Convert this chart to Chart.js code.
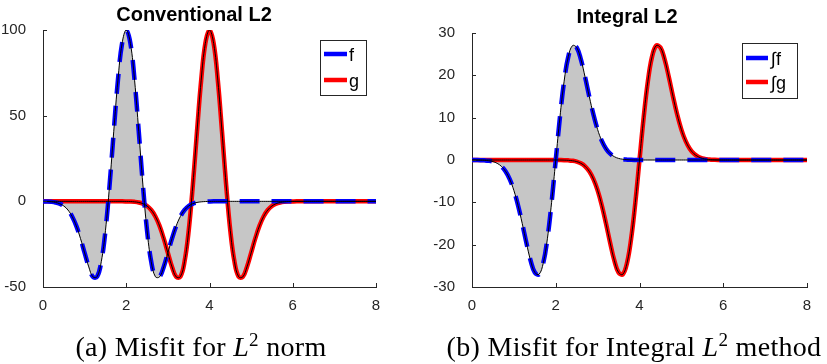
<!DOCTYPE html>
<html>
<head>
<meta charset="utf-8">
<script src="https://cdn.jsdelivr.net/npm/chart.js@4.4.1/dist/chart.umd.min.js"></script>
<style>
body { margin: 0; background: #fff; width: 827px; height: 364px; position: relative; overflow: hidden; }
.pane { position: absolute; top: 0; height: 330px; }
.cap { position: absolute; top: 333px; font-family: 'Liberation Serif', 'Times New Roman', serif; font-size: 28px; line-height: 28px; letter-spacing: 0.3px; text-align: center; color: #000; white-space: nowrap; }
.cap sup { font-size: 0.68em; line-height: 0; vertical-align: 0.5em; }
</style>
</head>
<body>
<div class="pane" style="left:0;width:413px"><canvas id="chartA" width="413" height="330"></canvas></div>
<div class="pane" style="left:413px;width:414px"><canvas id="chartB" width="414" height="330"></canvas></div>
<div class="cap" style="left:0;width:402px">(a) Misfit for <i>L</i><sup>2</sup> norm</div>
<div class="cap" style="left:434px;width:400px">(b) Misfit for Integral <i>L</i><sup>2</sup> method</div>
<script>
// sample positions (time axis)
const xs = [0,0.1,0.2,0.3,0.4,0.5,0.6,0.7,0.8,0.9,1,1.1,1.2,1.3,1.4,1.5,1.6,1.7,1.8,1.9,
            2,2.1,2.2,2.3,2.4,2.5,2.6,2.7,2.8,2.9,3,3.1,3.2,3.3,3.4,3.5,3.6,3.7,3.8,3.9,
            4,4.1,4.2,4.3,4.4,4.5,4.6,4.7,4.8,4.9,5,5.1,5.2,5.3,5.4,5.5,5.6,5.7,5.8,5.9,
            6,6.1,6.2,6.3,6.4,6.5,6.6,6.7,6.8,6.9,7,7.1,7.2,7.3,7.4,7.5,7.6,7.7,7.8,7.9,8];

// left panel: f and g
const fVals = [-0.05,-0.12,-0.29,-0.65,-1.37,-2.72,-5.07,-8.84,-14.35,-21.64,
               -30.11,-38.29,-44.1,-44,-35.24,-17.12,9.56,40.9,70.7,92.18,
               100,92.18,70.7,40.9,9.56,-17.12,-35.24,-44,-44.1,-38.29,
               -30.11,-21.64,-14.35,-8.84,-5.07,-2.72,-1.37,-0.65,-0.29,-0.12,
               -0.05,0,0,0,0,0,0,0,0,0,
               0,0,0,0,0,0,0,0,0,0,
               0,0,0,0,0,0,0,0,0,0,
               0,0,0,0,0,0,0,0,0,0,0];
const gVals = [0,0,0,0,0,0,0,0,0,0,
               0,0,0,0,0,0,0,0,0,0,
               -0.05,-0.12,-0.29,-0.65,-1.37,-2.72,-5.07,-8.84,-14.35,-21.64,
               -30.11,-38.29,-44.1,-44,-35.24,-17.12,9.56,40.9,70.7,92.18,
               100,92.18,70.7,40.9,9.56,-17.12,-35.24,-44,-44.1,-38.29,
               -30.11,-21.64,-14.35,-8.84,-5.07,-2.72,-1.37,-0.65,-0.29,-0.12,
               -0.05,0,0,0,0,0,0,0,0,0,
               0,0,0,0,0,0,0,0,0,0,0];

// right panel: integrals of f and g
const intF = [0,-0.01,-0.03,-0.08,-0.18,-0.38,-0.78,-1.48,-2.67,-4.52,
              -7.19,-10.74,-15.02,-19.61,-23.78,-26.57,-27.02,-24.42,-18.61,-10.08,
              0,10.08,18.61,24.42,27.02,26.57,23.78,19.61,15.02,10.74,
              7.19,4.52,2.67,1.48,0.78,0.38,0.18,0.08,0.03,0.01,
              0,0,0,0,0,0,0,0,0,0,
              0,0,0,0,0,0,0,0,0,0,
              0,0,0,0,0,0,0,0,0,0,
              0,0,0,0,0,0,0,0,0,0,0];
const intG = [0,0,0,0,0,0,0,0,0,0,
              0,0,0,0,0,0,0,0,0,0,
              0,-0.01,-0.03,-0.08,-0.18,-0.38,-0.78,-1.48,-2.67,-4.52,
              -7.19,-10.74,-15.02,-19.61,-23.78,-26.57,-27.02,-24.42,-18.61,-10.08,
              0,10.08,18.61,24.42,27.02,26.57,23.78,19.61,15.02,10.74,
              7.19,4.52,2.67,1.48,0.78,0.38,0.18,0.08,0.03,0.01,
              0,0,0,0,0,0,0,0,0,0,
              0,0,0,0,0,0,0,0,0,0,0];

const xTicks = [0, 2, 4, 6, 8];
const leftTicks = [-50, 0, 50, 100];
const rightTicks = [-30, -20, -10, 0, 10, 20, 30];

const AXIS = '#262626';
const FONT = "'Liberation Sans', Arial, sans-serif";

function pts(ys) {
    return xs.map(function(x, i) { return { x: x, y: ys[i] }; });
}

// inner tick marks, title and boxed legend
const decor = {
    id: 'decor',
    afterDraw: function(chart, args, o) {
        const ctx = chart.ctx, a = chart.chartArea;
        const sx = chart.scales.x, sy = chart.scales.y;
        ctx.save();
        ctx.strokeStyle = AXIS;
        ctx.lineWidth = 1;
        sx.ticks.forEach(function(t) {
            const px = Math.round(sx.getPixelForValue(t.value)) + 0.5;
            ctx.beginPath(); ctx.moveTo(px, a.bottom); ctx.lineTo(px, a.bottom - 4); ctx.stroke();
        });
        sy.ticks.forEach(function(t) {
            const py = Math.round(sy.getPixelForValue(t.value)) + 0.5;
            ctx.beginPath(); ctx.moveTo(a.left, py); ctx.lineTo(a.left + 4, py); ctx.stroke();
        });

        ctx.fillStyle = '#000';
        ctx.font = 'bold 20px ' + FONT;
        ctx.textAlign = 'center';
        ctx.textBaseline = 'alphabetic';
        ctx.fillText(o.title, o.titleX, o.titleY);

        const L = o.legend;
        ctx.fillStyle = '#fff';
        ctx.fillRect(L.x, L.y, L.w, L.h);
        ctx.strokeStyle = AXIS;
        ctx.strokeRect(L.x + 0.5, L.y + 0.5, L.w, L.h);
        ctx.font = '18px ' + FONT;
        ctx.textAlign = 'left';
        L.items.forEach(function(it, i) {
            const y = L.rowY[i];
            ctx.strokeStyle = it.color;
            ctx.lineWidth = 4.5;
            ctx.beginPath(); ctx.moveTo(L.lineX0, y); ctx.lineTo(L.lineX1, y); ctx.stroke();
            ctx.fillStyle = '#000';
            ctx.fillText(it.text, L.textX, y + 7);
        });
        ctx.restore();
    }
};

function buildDatasets(a, b, la, lb) {
    return [
        { label: la + ' edge', data: pts(a), borderColor: '#000', borderWidth: 1, order: 0 },
        { label: lb + ' edge', data: pts(b), borderColor: '#000', borderWidth: 1, order: 0 },
        { label: la, data: pts(a), borderColor: '#0000ff', borderWidth: 4.5, borderDash: [20, 12], order: 1 },
        { label: lb, data: pts(b), borderColor: '#ff0000', borderWidth: 4.5, order: 2 },
        { label: 'misfit', data: pts(a), borderColor: 'rgba(0,0,0,0)', borderWidth: 0,
          backgroundColor: '#c6c6c6', fill: 3, order: 3 }
    ];
}

function makeChart(id, datasets, yTicks, yWidth, padding, decorOpts) {
    return new Chart(document.getElementById(id), {
        type: 'line',
        data: { datasets: datasets },
        options: {
            responsive: false,
            animation: false,
            layout: { padding: padding },
            elements: { point: { radius: 0 }, line: { tension: 0.4, borderCapStyle: 'butt' } },
            plugins: { legend: { display: false }, tooltip: { enabled: false }, decor: decorOpts },
            scales: {
                x: {
                    type: 'linear', min: xTicks[0], max: xTicks[xTicks.length - 1],
                    grid: { display: false },
                    border: { display: true, color: AXIS, width: 1 },
                    ticks: { stepSize: xTicks[1] - xTicks[0], padding: 2, color: AXIS, font: { family: FONT, size: 15 } },
                    afterFit: function(s) { s.height = 43; }
                },
                y: {
                    min: yTicks[0], max: yTicks[yTicks.length - 1],
                    grid: { display: false },
                    border: { display: true, color: AXIS, width: 1 },
                    ticks: { stepSize: yTicks[1] - yTicks[0], padding: 9, color: AXIS, font: { family: FONT, size: 15 } },
                    afterFit: function(s) { s.width = yWidth; }
                }
            }
        },
        plugins: [decor]
    });
}

makeChart('chartA', buildDatasets(fVals, gVals, 'f', 'g'), leftTicks, 43,
    { top: 30, right: 37, left: 0, bottom: 0 },
    { title: 'Conventional L2', titleX: 194, titleY: 21,
      legend: { x: 320, y: 40, w: 46, h: 55, lineX0: 324, lineX1: 347, textX: 349, rowY: [54, 80],
                items: [{ text: 'f', color: '#0000ff' }, { text: 'g', color: '#ff0000' }] } });

makeChart('chartB', buildDatasets(intF, intG, '\u222Bf', '\u222Bg'), rightTicks, 59,
    { top: 33, right: 20, left: 0, bottom: 0 },
    { title: 'Integral L2', titleX: 214, titleY: 23,
      legend: { x: 329, y: 43, w: 55, h: 55, lineX0: 333, lineX1: 355, textX: 358, rowY: [58, 82],
                items: [{ text: '\u222Bf', color: '#0000ff' }, { text: '\u222Bg', color: '#ff0000' }] } });
</script>
</body>
</html>
